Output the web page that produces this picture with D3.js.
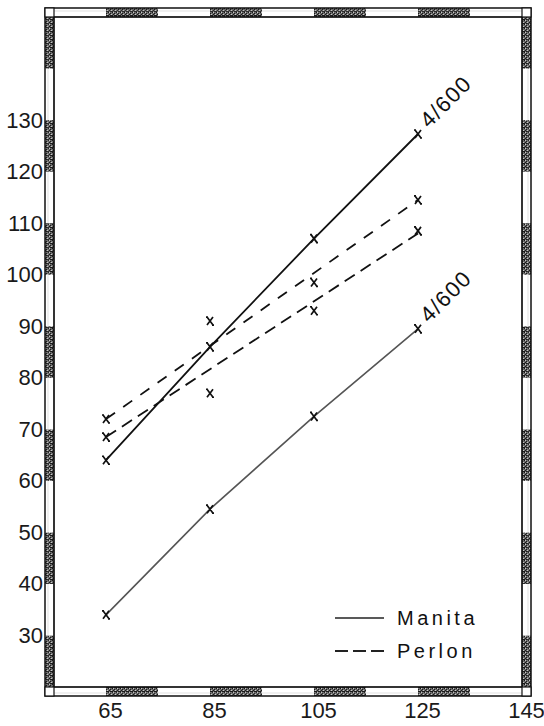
<!DOCTYPE html>
<html>
<head>
<meta charset="utf-8">
<script src="https://cdn.jsdelivr.net/npm/d3@7"></script>
<style>
  html, body { margin: 0; padding: 0; background: #fff; }
  svg { display: block; }
</style>
</head>
<body>
<svg id="chart" width="544" height="726"></svg>
<script>
// ---- data ----
const xVals = [65, 85, 105, 125];
const manitaUpper = [64, 86, 107, 127.3];
const manitaLower = [34, 54.5, 72.5, 89.5];
const perlonA = [72, 91, 98.5, 114.5];
const perlonB = [68.5, 77, 93, 108.5];
const fitX = [65, 125];
const perlonFitA = [72, 114.5];
const perlonFitB = [68.5, 108];
const yTicks = [30, 40, 50, 60, 70, 80, 90, 100, 110, 120, 130];
const xTicks = [65, 85, 105, 125, 145];
const xBands = [55, 65, 75, 85, 95, 105, 115, 125, 135, 145];
const yBands = [20, 30, 40, 50, 60, 70, 80, 90, 100, 110, 120, 130, 140, 150];
const curveLabels = ["4/600", "4/600"];
const legendNames = ["Manita", "Perlon"];

// ---- layout ----
const svg = d3.select("#chart");
const x = d3.scaleLinear().domain([55, 145]).range([54, 522]);
const y = d3.scaleLinear().domain([20, 150]).range([687, 17]);
const bw = 9; // border width
const L = x.range()[0], R = x.range()[1], T = y.range()[1], B = y.range()[0];

// stipple pattern for dark border segments
const defs = svg.append("defs");
const pat = defs.append("pattern").attr("id", "stip").attr("width", 4).attr("height", 4)
  .attr("patternUnits", "userSpaceOnUse");
pat.append("rect").attr("width", 4).attr("height", 4).attr("fill", "#6a6a6a");
[[0,0],[2,1],[1,2],[3,3],[0,3],[2,3]].forEach(([a,b]) =>
  pat.append("rect").attr("x", a).attr("y", b).attr("width", 1).attr("height", 1).attr("fill", "#1a1a1a"));
[[1,0],[3,2]].forEach(([a,b]) =>
  pat.append("rect").attr("x", a).attr("y", b).attr("width", 1).attr("height", 1).attr("fill", "#c8c8c8"));

const frame = svg.append("g");
// horizontal borders
for (let i = 0; i < xBands.length - 1; i++) {
  const x0 = x(xBands[i]), x1 = x(xBands[i + 1]);
  const fill = (i % 2 === 1) ? "url(#stip)" : "#fff";
  frame.append("rect").attr("x", x0).attr("y", T - bw).attr("width", x1 - x0).attr("height", bw).attr("fill", fill);
  frame.append("rect").attr("x", x0).attr("y", B).attr("width", x1 - x0).attr("height", bw).attr("fill", fill);
}
// vertical borders
for (let i = 0; i < yBands.length - 1; i++) {
  const y0 = y(yBands[i + 1]), y1 = y(yBands[i]);
  const fill = (i % 2 === 0) ? "url(#stip)" : "#fff";
  frame.append("rect").attr("x", L - bw).attr("y", y0).attr("width", bw).attr("height", y1 - y0).attr("fill", fill);
  frame.append("rect").attr("x", R).attr("y", y0).attr("width", bw).attr("height", y1 - y0).attr("fill", fill);
}
// faint inner strip (double-line look)
frame.append("rect").attr("x", L - bw + 3).attr("y", T - bw + 3).attr("width", R - L + 2 * bw - 6).attr("height", B - T + 2 * bw - 6)
  .attr("fill", "none").attr("stroke", "#999").attr("stroke-width", 0.6).attr("opacity", 0.5);
// outlines
frame.append("rect").attr("x", L - bw).attr("y", T - bw).attr("width", R - L + 2 * bw).attr("height", B - T + 2 * bw)
  .attr("fill", "none").attr("stroke", "#111").attr("stroke-width", 1.5);
frame.append("rect").attr("x", L).attr("y", T).attr("width", R - L).attr("height", B - T)
  .attr("fill", "none").attr("stroke", "#111").attr("stroke-width", 1.7);
// corner squares
[[L - bw, T - bw], [R, T - bw], [L - bw, B], [R, B]].forEach(([cx, cy]) =>
  frame.append("rect").attr("x", cx).attr("y", cy).attr("width", bw).attr("height", bw)
    .attr("fill", "#fff").attr("stroke", "#111").attr("stroke-width", 1.2));

// ---- axes (labels only) ----
const yAxis = svg.append("g").attr("transform", `translate(${L - bw},0)`)
  .call(d3.axisLeft(y).tickValues(yTicks).tickSize(0).tickPadding(2).tickFormat(d3.format("d")));
yAxis.select(".domain").remove();
yAxis.selectAll("text").attr("font-family", "Liberation Sans, Arial, sans-serif")
  .attr("font-size", 22).attr("fill", "#1a1a1a");

const xAxis = svg.append("g").attr("transform", `translate(0,${B + bw})`)
  .call(d3.axisBottom(x).tickValues(xTicks).tickSize(0).tickPadding(6).tickFormat(d3.format("d")));
xAxis.select(".domain").remove();
xAxis.selectAll("text").attr("font-family", "Liberation Sans, Arial, sans-serif")
  .attr("font-size", 22).attr("fill", "#1a1a1a").attr("dx", 4);

// ---- lines ----
const line = d3.line().x(d => x(d[0])).y(d => y(d[1]));
const plot = svg.append("g");
plot.append("path").datum(xVals.map((v, i) => [v, manitaUpper[i]])).attr("d", line)
  .attr("fill", "none").attr("stroke", "#111").attr("stroke-width", 1.8);
plot.append("path").datum(xVals.map((v, i) => [v, manitaLower[i]])).attr("d", line)
  .attr("fill", "none").attr("stroke", "#555").attr("stroke-width", 1.6);
plot.append("path").datum(fitX.map((v, i) => [v, perlonFitA[i]])).attr("d", line)
  .attr("fill", "none").attr("stroke", "#111").attr("stroke-width", 1.8).attr("stroke-dasharray", "11,10");
plot.append("path").datum(fitX.map((v, i) => [v, perlonFitB[i]])).attr("d", line)
  .attr("fill", "none").attr("stroke", "#111").attr("stroke-width", 1.8).attr("stroke-dasharray", "12,7");

// ---- markers ----
const pts = [];
[manitaUpper, manitaLower, perlonA, perlonB].forEach(s => xVals.forEach((v, i) => pts.push([v, s[i]])));
plot.selectAll("path.mk").data(pts).join("path").attr("class", "mk")
  .attr("transform", d => `translate(${x(d[0])},${y(d[1])})`)
  .attr("d", "M-3,-4L3,4M3,-4L-3,4M-4,-4L-2,-4M2,4L4,4")
  .attr("fill", "none").attr("stroke", "#111").attr("stroke-width", 1.7);

// ---- curve labels ----
const labelAnchors = [[125, manitaUpper[3]], [125, manitaLower[3]]];
curveLabels.forEach((t, i) => {
  const [lx, ly] = labelAnchors[i];
  svg.append("text").attr("transform", `translate(${x(lx) + 11},${y(ly) - 5}) rotate(-45)`)
    .attr("font-family", "Liberation Sans, Arial, sans-serif").attr("font-size", 22)
    .attr("letter-spacing", 1.5).attr("fill", "#111").text(t);
});

// ---- legend ----
const leg = svg.append("g");
const legY = [618, 651];
leg.append("line").attr("x1", 335).attr("x2", 384).attr("y1", legY[0]).attr("y2", legY[0])
  .attr("stroke", "#222").attr("stroke-width", 1.6);
leg.append("line").attr("x1", 335).attr("x2", 384).attr("y1", legY[1]).attr("y2", legY[1])
  .attr("stroke", "#222").attr("stroke-width", 1.8).attr("stroke-dasharray", "13,5");
legendNames.forEach((n, i) => {
  leg.append("text").attr("x", 397).attr("y", legY[i] + 7)
    .attr("font-family", "Liberation Sans, Arial, sans-serif").attr("font-size", 20)
    .attr("letter-spacing", 3.5).attr("fill", "#111").text(n);
});
</script>
</body>
</html>
